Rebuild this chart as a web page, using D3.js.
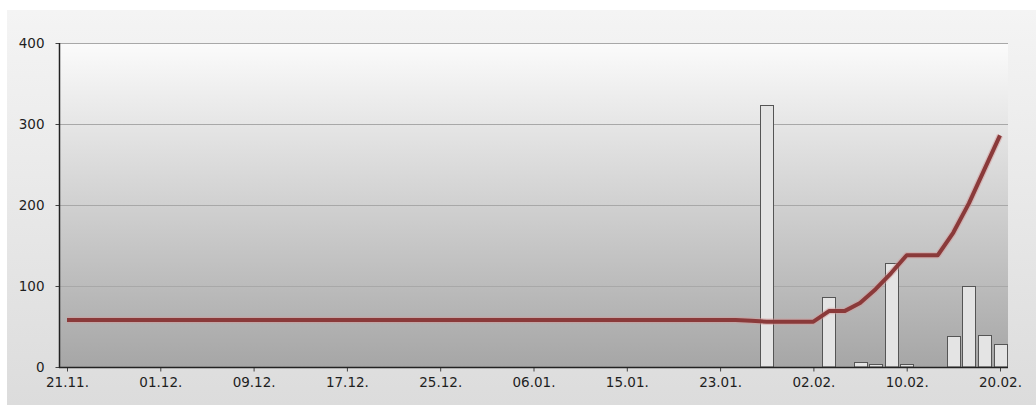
<!DOCTYPE html>
<html>
<head>
<meta charset="utf-8">
<script src="https://cdn.jsdelivr.net/npm/d3@7"></script>
<style>
  body { margin: 0; background: #fff; }
  svg { display: block; }
  .tick text { font-family: "DejaVu Sans", sans-serif; font-size: 13.5px; fill: #1e1e1e; }
</style>
</head>
<body>
<div id="chart"></div>
<script>
// labels shown under every 6th point
var tickLabels = ["21.11.", "01.12.", "09.12.", "17.12.", "25.12.", "06.01.",
                  "15.01.", "23.01.", "02.02.", "10.02.", "20.02."]
var tickEvery = 6

// bars (index of point, value)
var barIndex  = [45, 49, 51, 52, 53, 54, 57, 58, 59, 60]
var barValues = [323, 86, 6, 4, 128, 4, 38, 100, 40, 28]

// line, one value per point
var lineValues = [58, 58, 58, 58, 58, 58, 58, 58, 58, 58,
                  58, 58, 58, 58, 58, 58, 58, 58, 58, 58,
                  58, 58, 58, 58, 58, 58, 58, 58, 58, 58,
                  58, 58, 58, 58, 58, 58, 58, 58, 58, 58,
                  58, 58, 58, 58, 57, 56, 56, 56, 56, 69,
                  69, 79, 96, 116, 138, 138, 138, 166, 202, 244,
                  286]

var yTicks = [0, 100, 200, 300, 400]

var width = 1036, height = 405
var plot = {left: 59, top: 43, right: 1008, bottom: 367}

var svg = d3.select('#chart').append('svg')
	.attr('width', width)
	.attr('height', height)

var defs = svg.append('defs')
var g1 = defs.append('linearGradient').attr('id', 'outerBg')
	.attr('x1', 0).attr('y1', 0).attr('x2', 0).attr('y2', 1)
g1.append('stop').attr('offset', '0%').attr('stop-color', '#f4f4f4')
g1.append('stop').attr('offset', '100%').attr('stop-color', '#dcdcdc')

var g2 = defs.append('linearGradient').attr('id', 'plotBg')
	.attr('x1', 0).attr('y1', 0).attr('x2', 0).attr('y2', 1)
g2.append('stop').attr('offset', '0%').attr('stop-color', '#fbfbfb')
g2.append('stop').attr('offset', '100%').attr('stop-color', '#a6a6a6')

svg.append('rect')
	.attr('x', 7).attr('y', 10)
	.attr('width', width - 7).attr('height', height - 10)
	.attr('fill', 'url(#outerBg)')

svg.append('rect')
	.attr('x', plot.left).attr('y', plot.top)
	.attr('width', plot.right - plot.left).attr('height', plot.bottom - plot.top)
	.attr('fill', 'url(#plotBg)')

var points = d3.range(lineValues.length)

var x = d3.scalePoint()
	.domain(points)
	.range([67, 1000])

var y = d3.scaleLinear()
	.domain([0, 400])
	.range([plot.bottom, plot.top])

// grid
svg.append('g').selectAll('line')
	.data(yTicks.filter(function(d){ return d > 0 }))
	.enter().append('line')
	.attr('x1', plot.left).attr('x2', plot.right)
	.attr('y1', function(d){ return Math.round(y(d)) + 0.5 })
	.attr('y2', function(d){ return Math.round(y(d)) + 0.5 })
	.attr('stroke', '#a8a8a8')
	.attr('stroke-width', 1)

// bars
var bw = 13
svg.append('g').selectAll('rect')
	.data(barIndex)
	.enter().append('rect')
	.attr('x', function(d){ return Math.round(x(d) - bw / 2) + 0.5 })
	.attr('y', function(d, i){ return Math.round(y(barValues[i])) + 0.5 })
	.attr('width', bw)
	.attr('height', function(d, i){ return Math.round(plot.bottom - y(barValues[i])) - 0.5 })
	.attr('fill', '#e4e4e4')
	.attr('stroke', '#555')
	.attr('stroke-width', 1)

// line
var line = d3.line()
	.x(function(d, i){ return x(i) })
	.y(function(d){ return y(d) })

svg.append('path')
	.datum(lineValues)
	.attr('d', line)
	.attr('fill', 'none')
	.attr('stroke', '#d49a9a')
	.attr('stroke-opacity', 0.5)
	.attr('stroke-width', 6.5)
	.attr('stroke-linejoin', 'round')

svg.append('path')
	.datum(lineValues)
	.attr('d', line)
	.attr('fill', 'none')
	.attr('stroke', '#8a3a3a')
	.attr('stroke-width', 4)
	.attr('stroke-linejoin', 'round')

// axes
var yAxis = d3.axisLeft(y)
	.tickValues(yTicks)
	.tickSize(4)
	.tickPadding(11)

var xAxis = d3.axisBottom(x)
	.tickValues(points.filter(function(d){ return d % tickEvery == 0 }))
	.tickFormat(function(d){ return tickLabels[d / tickEvery] })
	.tickSize(4)
	.tickPadding(6)

var ya = svg.append('g')
	.attr('transform', 'translate(' + (plot.left + 0.5) + ',0)')
	.call(yAxis)
ya.select('.domain').remove()
ya.selectAll('.tick line').attr('stroke', '#444')

var xa = svg.append('g')
	.attr('transform', 'translate(0,' + (plot.bottom + 0.5) + ')')
	.call(xAxis)
xa.select('.domain').remove()
xa.selectAll('.tick line').attr('stroke', '#444')

svg.append('line')
	.attr('x1', plot.left + 0.5).attr('x2', plot.left + 0.5)
	.attr('y1', plot.top).attr('y2', plot.bottom + 1)
	.attr('stroke', '#222').attr('stroke-width', 1.5)

svg.append('line')
	.attr('x1', plot.left).attr('x2', plot.right)
	.attr('y1', plot.bottom + 0.5).attr('y2', plot.bottom + 0.5)
	.attr('stroke', '#222').attr('stroke-width', 1.5)
</script>
</body>
</html>
